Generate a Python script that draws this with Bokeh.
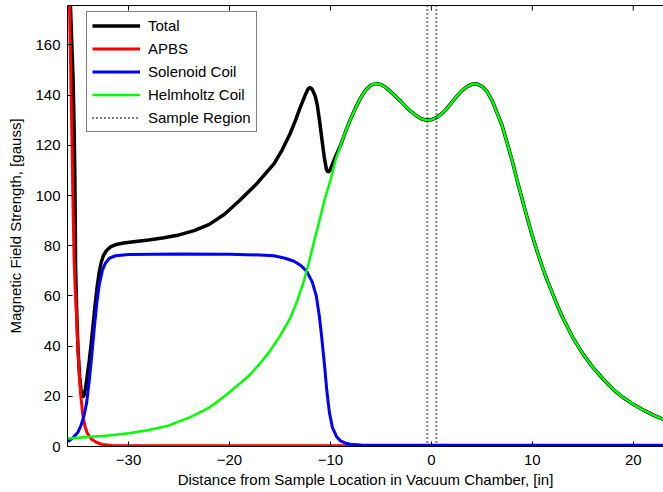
from bokeh.plotting import figure
from bokeh.models import LinearAxis, FixedTicker, Range1d, Legend, LegendItem
from bokeh.embed import file_html
from bokeh.resources import INLINE

# Field components along the chamber axis (position in inches, field in gauss)
total_x = [-35.78, -35.62, -35.5, -35.4, -35.33, -35.28, -35.25, -35.15, -35.0, -34.85,
           -34.7, -34.55, -34.4, -34.25, -34.1, -33.9, -33.7, -33.5, -33.3, -33.1,
           -32.9, -32.7, -32.5, -32.2, -31.8, -31.2, -30.5, -29.5, -28.0, -26.5,
           -25.0, -23.5, -22.0, -20.5, -19.0, -17.3, -15.6, -14.8, -14.0, -13.5,
           -13.0, -12.5, -12.2, -12.0, -11.8, -11.5, -11.3, -11.05, -10.8, -10.6,
           -10.4, -10.25, -10.05, -9.8, -9.5, -9.0, -8.5, -8.0, -7.5, -7.0,
           -6.5, -6.0, -5.5, -5.0, -4.5, -4.0, -3.5, -3.0, -2.5, -2.0,
           -1.5, -1.0, -0.5, 0.0, 0.5, 1.0, 1.5, 2.0, 2.5, 3.0,
           3.5, 4.0, 4.5, 5.0, 5.5, 6.0, 6.5, 7.0, 7.5, 8.0,
           8.5, 9.0, 9.5, 10.0, 10.5, 11.0, 11.5, 12.0, 12.5, 13.0,
           14.0, 15.0, 16.0, 17.0, 18.0, 19.0, 20.0, 21.0, 22.0, 23.0]
total_b = [178, 160, 147, 128, 110, 90, 72, 55, 38, 28,
           22, 19.6, 20.5, 23.5, 28, 34, 41, 49, 57, 64,
           69.5, 73.5, 76, 78, 79.5, 80.5, 81.1, 81.6, 82.3, 83.2,
           84.3, 86, 88.5, 92.5, 98, 104.7, 112.6, 118, 124.6, 129.5,
           135, 140, 142.5, 143, 142.3, 139.5, 136, 129, 121, 115,
           110.5, 109.3, 110, 112.5, 115.5, 120, 125.5, 130.5, 135, 139,
           142, 144, 144.6, 144.2, 143, 141.2, 139.3, 137.4, 135.3, 133.4,
           131.8, 130.6, 130, 130.2, 131, 132.5, 134.5, 137, 139.5, 141.7,
           143.3, 144.3, 144.5, 143.5, 141.5, 138, 133, 128, 121, 114,
           106, 98.5, 91, 84, 77.5, 71.5, 66, 61, 56, 51.5,
           43.5, 37, 31.5, 27, 22.8, 19.5, 16.8, 14.5, 12.5, 10.8]

apbs_x = [-35.9, -35.8, -35.7, -35.6, -35.5, -35.4, -35.3, -35.2, -35.05, -34.9,
          -34.75, -34.55, -34.3, -34.05, -33.7, -33.2, -32.6, -31.6, -30.0, 23.0]
apbs_b = [185, 165, 142, 120, 95, 75, 64, 56, 42, 30,
          21, 13, 7.7, 5, 3, 1.7, 0.8, 0.4, 0.3, 0.3]

solenoid_x = [-36.0, -35.5, -35.0, -34.7, -34.4, -34.15, -33.9, -33.65, -33.4, -33.15,
              -32.9, -32.6, -32.3, -31.9, -31.3, -30.0, -25.0, -20.0, -17.0, -15.6,
              -14.5, -13.6, -12.9, -12.3, -11.8, -11.4, -11.1, -10.85, -10.6, -10.35,
              -10.1, -9.8, -9.4, -9.0, -8.5, -8.0, -7.0, -5.0, 23.0]
solenoid_b = [2.0, 3.5, 5.8, 8.5, 12.5, 17.5, 26, 36, 47, 57,
              64.5, 70, 73, 75, 76, 76.5, 76.7, 76.6, 76.3, 76,
              75, 73.8, 72, 69.5, 65.5, 60, 52, 43, 33, 22,
              13.5, 7.5, 4, 2.2, 1.3, 0.9, 0.6, 0.5, 0.5]

helmholtz_x = [-36.0, -34.0, -32.0, -30.0, -28.0, -26.0, -24.0, -22.0, -20.5, -19.0,
               -18.0, -17.0, -16.0, -15.0, -14.0, -13.3, -12.7, -12.15, -11.6, -11.0,
               -10.5, -10.0, -9.5, -9.0, -8.5, -8.0, -7.5, -7.0, -6.5, -6.0,
               -5.5, -5.0, -4.5, -4.0, -3.5, -3.0, -2.5, -2.0, -1.5, -1.0,
               -0.5, 0.0, 0.5, 1.0, 1.5, 2.0, 2.5, 3.0, 3.5, 4.0,
               4.5, 5.0, 5.5, 6.0, 6.5, 7.0, 7.5, 8.0, 8.5, 9.0,
               9.5, 10.0, 10.5, 11.0, 11.5, 12.0, 12.5, 13.0, 14.0, 15.0,
               16.0, 17.0, 18.0, 19.0, 20.0, 21.0, 22.0, 23.0]
helmholtz_b = [3.2, 3.8, 4.4, 5.3, 6.6, 8.4, 11.5, 15.5, 20, 25,
               28.5, 33, 38, 44, 51, 58, 65, 73, 82, 91.5,
               99.5, 106, 114, 120, 125.5, 130.5, 135, 139, 142, 144,
               144.6, 144.2, 143, 141.2, 139.3, 137.4, 135.3, 133.4, 131.8, 130.6,
               130, 130.2, 131, 132.5, 134.5, 137, 139.5, 141.7, 143.3, 144.3,
               144.5, 143.5, 141.5, 138, 133, 128, 121, 114, 106, 98.5,
               91, 84, 77.5, 71.5, 66, 61, 56, 51.5, 43.5, 37,
               31.5, 27, 22.8, 19.5, 16.8, 14.5, 12.5, 10.8]

sample_edges = [-0.4, 0.5]

x_ticks = [-30, -20, -10, 0, 10, 20]
y_ticks = [0, 20, 40, 60, 80, 100, 120, 140, 160]

X_MIN, X_MAX = -36.05, 23.0
Y_MIN, Y_MAX = 0.0, 175.7

FONT = "Liberation Sans"
FS = "15px"
PLOT_H = 441          # frame height in px
TICK_PX = 5           # inward tick length in px

p = figure(width=663, height=492, output_backend="svg", toolbar_location=None,
           x_range=Range1d(X_MIN, X_MAX), y_range=Range1d(Y_MIN, Y_MAX),
           min_border_left=67, min_border_right=0, min_border_top=5,
           min_border_bottom=46)
p.background_fill_color = "white"
p.border_fill_color = "white"
p.outline_line_color = None
p.xgrid.grid_line_color = None
p.ygrid.grid_line_color = None

r_total = p.line(total_x, total_b, line_color="black", line_width=3.5)
r_apbs = p.line(apbs_x, apbs_b, line_color="#ff0000", line_width=3)
r_sol = p.line(solenoid_x, solenoid_b, line_color="#0000ff", line_width=3)
r_helm = p.line(helmholtz_x, helmholtz_b, line_color="#00ff00", line_width=2.5)
r_sample = p.multi_line(xs=[[e, e] for e in sample_edges],
                        ys=[[Y_MIN, Y_MAX] for _ in sample_edges],
                        line_color="black", line_width=2, line_dash="1 3")

for ax in (p.xaxis[0], p.yaxis[0]):
    ax.axis_line_color = "black"
    ax.major_tick_line_color = "black"
    ax.major_tick_in = TICK_PX
    ax.major_tick_out = 0
    ax.minor_tick_line_color = None
    ax.major_label_text_font = FONT
    ax.major_label_text_font_size = FS
    ax.major_label_text_color = "black"
    ax.axis_label_text_font = FONT
    ax.axis_label_text_font_size = FS
    ax.axis_label_text_font_style = "normal"
    ax.axis_label_text_color = "black"

p.xaxis[0].ticker = FixedTicker(ticks=x_ticks)
p.yaxis[0].ticker = FixedTicker(ticks=y_ticks)
p.xaxis[0].axis_label = "Distance from Sample Location in Vacuum Chamber, [in]"
p.yaxis[0].axis_label = "Magnetic Field Strength, [gauss]"
p.xaxis[0].major_label_standoff = 8
p.xaxis[0].axis_label_standoff = 3
p.yaxis[0].major_label_standoff = 7
p.yaxis[0].axis_label_standoff = 8

# top frame edge: a bare axis line, with the x ticks mirrored inward below it
top = LinearAxis(ticker=FixedTicker(ticks=[]), major_tick_in=0, major_tick_out=0,
                 minor_tick_line_color=None, axis_line_color="black")
p.add_layout(top, "above")
tick_len = TICK_PX * (Y_MAX - Y_MIN) / PLOT_H
p.segment(x0=x_ticks, y0=[Y_MAX] * len(x_ticks), x1=x_ticks,
          y1=[Y_MAX - tick_len] * len(x_ticks), line_color="black", line_width=1)

legend = Legend(items=[
    LegendItem(label="Total", renderers=[r_total]),
    LegendItem(label="APBS", renderers=[r_apbs]),
    LegendItem(label="Solenoid Coil", renderers=[r_sol]),
    LegendItem(label="Helmholtz Coil", renderers=[r_helm]),
    LegendItem(label="Sample Region", renderers=[r_sample]),
], location=(19, 314))
legend.label_text_font = FONT
legend.label_text_font_size = FS
legend.label_text_color = "black"
legend.border_line_color = "black"
legend.border_line_width = 1
legend.background_fill_color = "white"
legend.background_fill_alpha = 1
legend.padding = 5
legend.margin = 0
legend.spacing = 6
legend.glyph_width = 48
legend.glyph_height = 17
legend.label_height = 17
legend.label_standoff = 8
p.add_layout(legend)

with open("out.html", "w") as f:
    f.write(file_html(p, INLINE))
